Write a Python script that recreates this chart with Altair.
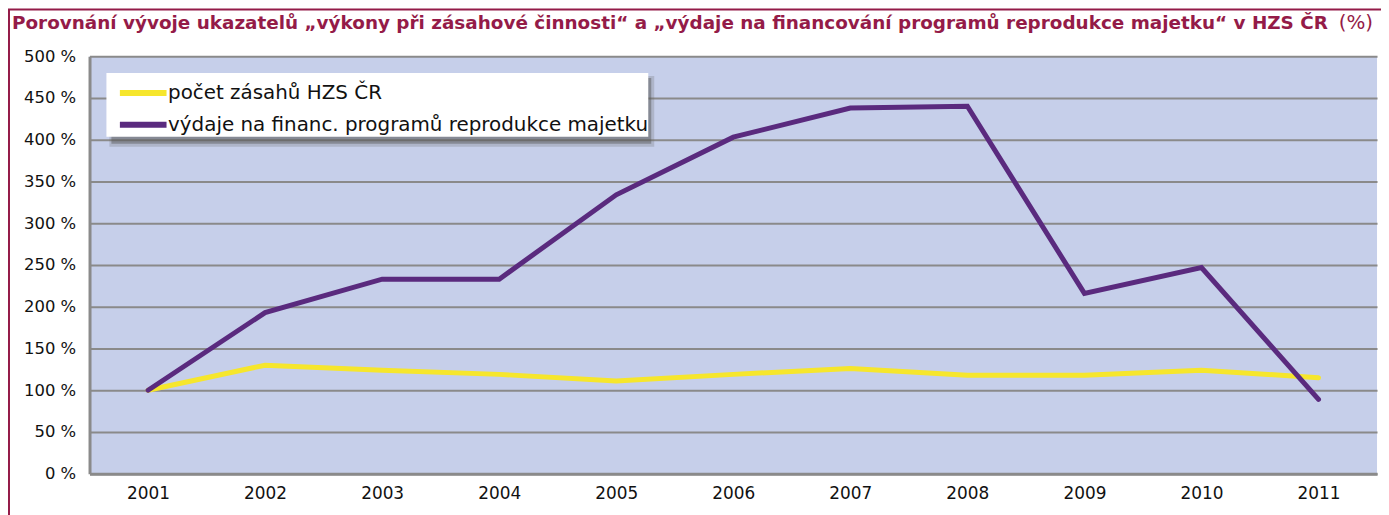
import altair as alt
import pandas as pd

years = ["2001", "2002", "2003", "2004", "2005", "2006", "2007", "2008", "2009", "2010", "2011"]
pocet_zasahu = [100, 130, 124, 119, 111, 119, 126, 118, 118, 124, 115]
vydaje = [100, 193, 233, 233, 334, 403, 438, 440, 216, 247, 89]
series_names = ["počet zásahů HZS ČR", "výdaje na financ. programů reprodukce majetku"]
series_colors = ["#F6E62C", "#5A2A7E"]
y_ticks = [0, 50, 100, 150, 200, 250, 300, 350, 400, 450, 500]
title_main = "Porovnání vývoje ukazatelů „výkony při zásahové činnosti“ a „výdaje na financování programů reprodukce majetku“ v HZS ČR"
title_unit = "(%)"

df = pd.DataFrame({
    "rok": years * 2,
    "hodnota": pocet_zasahu + vydaje,
    "serie": [series_names[0]] * len(years) + [series_names[1]] * len(years),
})

FONT = "DejaVu Sans"
RED = "#941B48"

lines = alt.Chart(df).mark_line(strokeWidth=5, strokeCap="round").encode(
    x=alt.X("rok:O", scale=alt.Scale(type="point", padding=0.5),
            axis=alt.Axis(title=None, labelAngle=0, grid=False, ticks=False,
                          labelPadding=12, labelFontSize=17, labelColor="#111",
                          domainColor="#8A8A8A", domainWidth=3, labelFont=FONT)),
    y=alt.Y("hodnota:Q", scale=alt.Scale(domain=[0, 500], nice=False),
            axis=alt.Axis(title=None, values=y_ticks, labelExpr="datum.value + ' %'",
                          ticks=False, labelPadding=14, labelFontSize=16.5, labelColor="#111",
                          grid=True, gridColor="#8A8A8A", gridWidth=2,
                          domainColor="#8A8A8A", domainWidth=3, labelFont=FONT)),
    color=alt.Color("serie:N", scale=alt.Scale(domain=series_names, range=series_colors),
                    legend=alt.Legend(title=None, orient="none", legendX=17, legendY=17,
                                      fillColor="white", padding=0,
                                      symbolType="M-1.38,0L1.38,0",
                                      symbolOffset=17, symbolStrokeWidth=6, symbolSize=1156,
                                      labelFontSize=20, labelFont=FONT, labelColor="#111",
                                      labelExpr="datum.label + '  '",
                                      labelOffset=5, labelLimit=800, rowPadding=0)),
)

anno = pd.DataFrame({"t": [title_main], "u": [title_unit]})

shadow_outer = alt.Chart(anno).mark_rect(color="#666", opacity=0.25).encode(
    x=alt.value(20), x2=alt.value(568), y=alt.value(20), y2=alt.value(91))
shadow_inner = alt.Chart(anno).mark_rect(color="#555", opacity=0.45).encode(
    x=alt.value(22), x2=alt.value(565), y=alt.value(22), y2=alt.value(88))

title_txt = alt.Chart(anno).mark_text(align="left", baseline="middle", font=FONT,
                                      fontSize=18.5, fontWeight="bold", color=RED).encode(
    x=alt.value(-78), y=alt.value(-33), text="t:N")
unit_txt = alt.Chart(anno).mark_text(align="right", baseline="middle", font=FONT,
                                     fontSize=20, color=RED).encode(
    x=alt.value(1291), y=alt.value(-33), text="u:N")

border_left = alt.Chart(anno).mark_rule(color=RED, strokeWidth=2).encode(
    x=alt.value(-81), y=alt.value(-47), y2=alt.value(465))
border_top = alt.Chart(anno).mark_rule(color=RED, strokeWidth=2).encode(
    x=alt.value(-82), x2=alt.value(1300), y=alt.value(-47))

chart = alt.layer(shadow_outer, shadow_inner, lines, title_txt, unit_txt,
                  border_left, border_top).properties(
    width=1295, height=420,
    padding={"left": 82, "top": 47, "right": 4, "bottom": 40},
    autosize=alt.AutoSizeParams(type="none"),
).configure_view(fill="#C6CFEA", stroke=None)

chart.save("out.html", embed_options={"renderer": "svg", "actions": False})
